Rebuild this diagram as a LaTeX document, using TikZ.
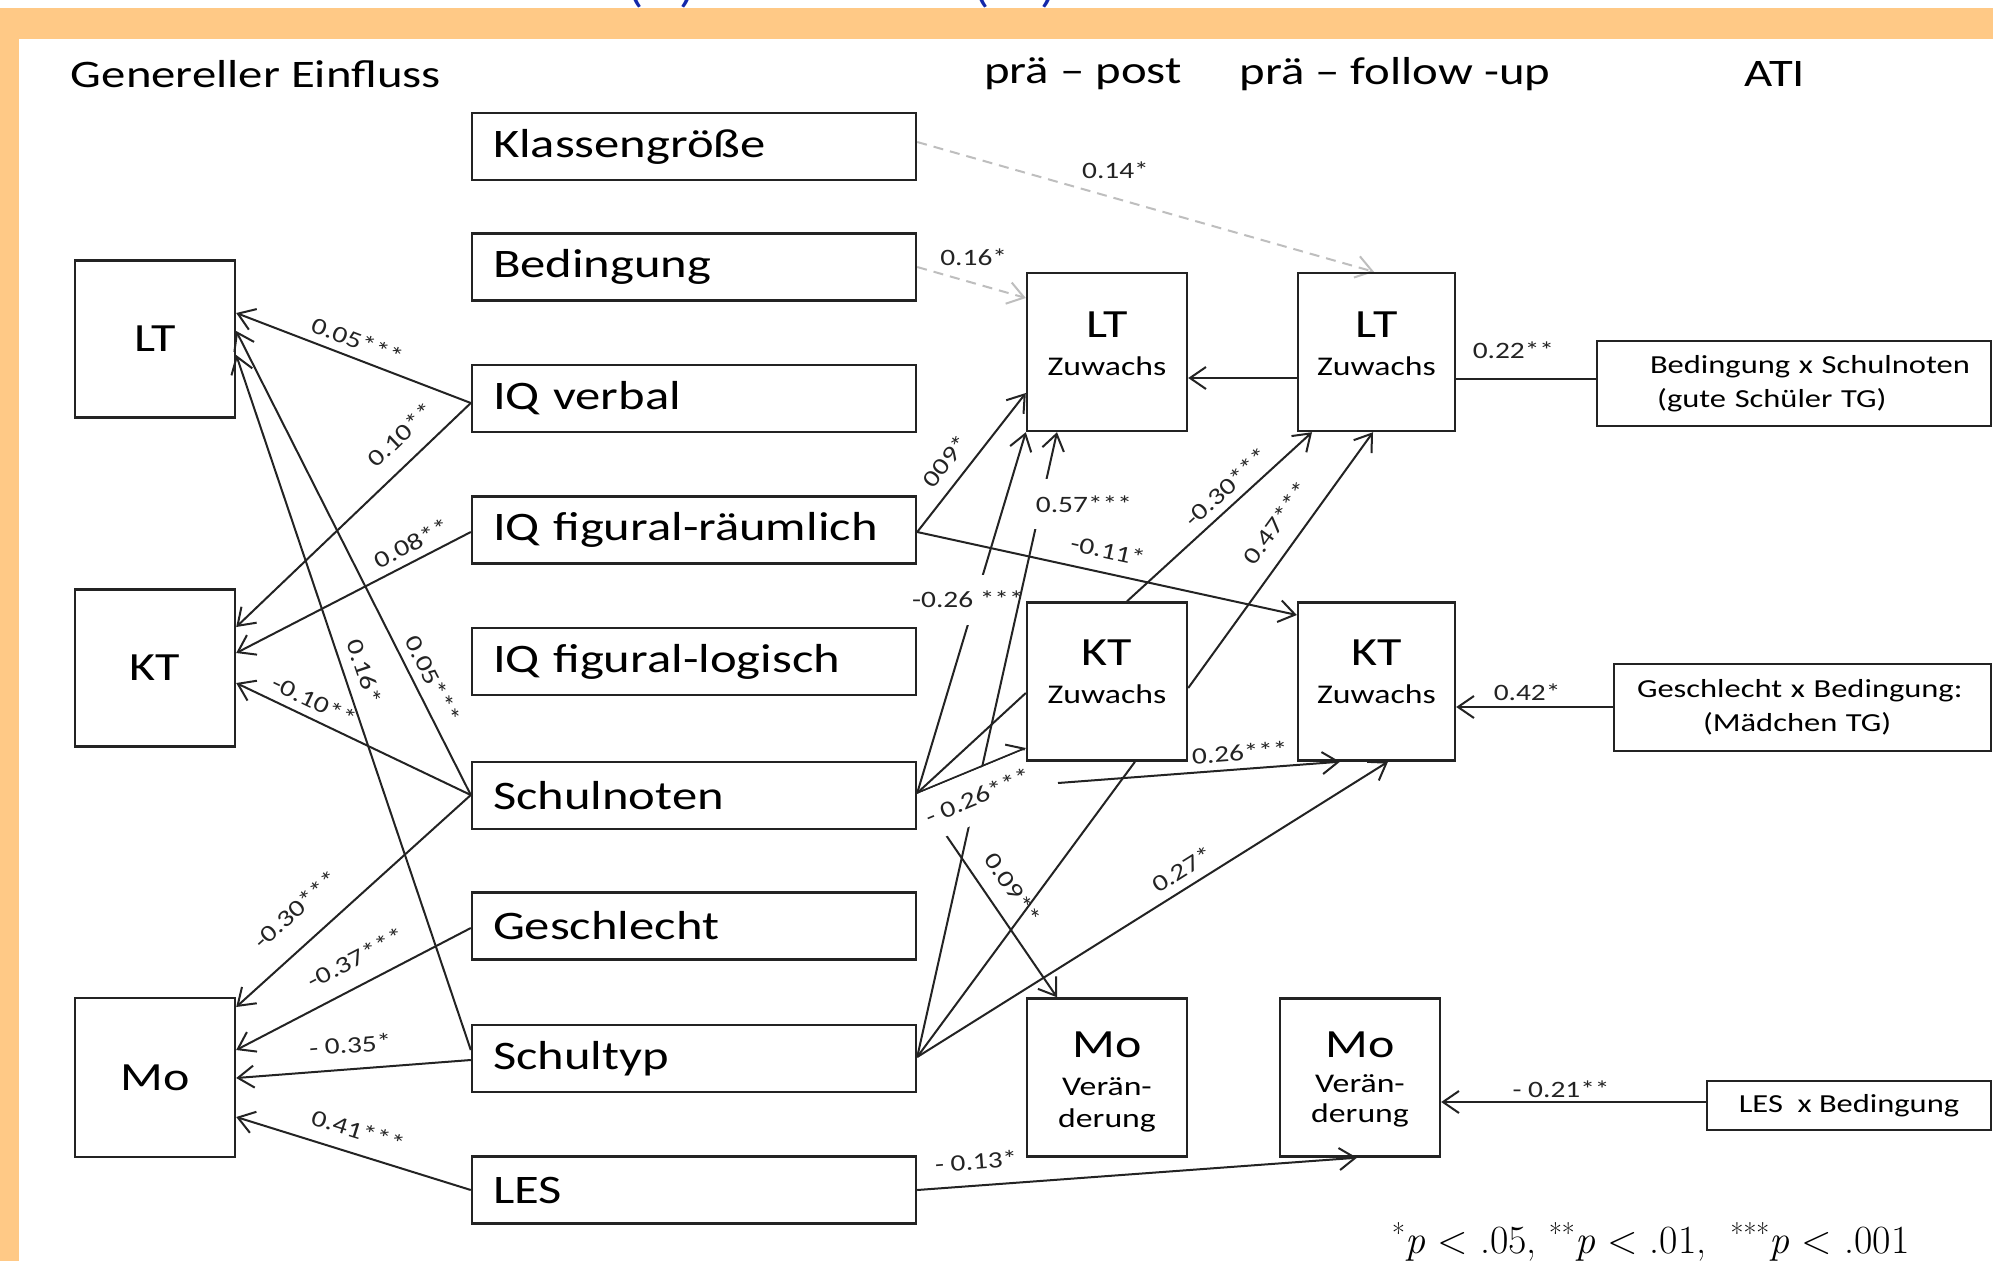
\documentclass[tikz,border=0pt]{standalone}
\usepackage{fontspec}
\newfontfamily\cf[FakeStretch=1.25]{Carlito}
\usetikzlibrary{arrows.meta,backgrounds}
\definecolor{orng}{RGB}{255,201,134}
\definecolor{lnc}{RGB}{35,35,35}
\definecolor{dgray}{RGB}{190,190,190}
\definecolor{blu}{RGB}{20,40,170}
\pgfdeclarelayer{back}
\pgfsetlayers{back,background,main}
\begin{document}
\begin{tikzpicture}[x=1pt,y=-1pt,
  box/.style={draw=lnc, line width=2.4pt, inner sep=0pt, rectangle},
  mid/.style={box, minimum width=444pt, minimum height=67pt, text width=402pt, align=left, font=\cf\fontsize{40.5}{46}\selectfont},
  big/.style={box, minimum width=160pt, minimum height=157pt, font=\cf\fontsize{40}{46}\selectfont},
  sqr/.style={box, minimum width=160pt, minimum height=158pt},
  ttl/.style={font=\cf\fontsize{40}{46}\selectfont, inner sep=0pt, anchor=base},
  sub/.style={font=\cf\fontsize{27}{30}\selectfont, inner sep=0pt, anchor=base},
  ati/.style={box, align=left, font=\cf\fontsize{26}{34}\selectfont},
  hdr/.style={font=\cf\fontsize{39}{46}\selectfont, inner sep=0pt},
  lab/.style={font=\cf\fontsize{23.5}{26}\selectfont, inner sep=1pt, text=lnc},
  wlab/.style={lab, fill=white, minimum height=50pt, inner xsep=4pt},
  ln/.style={draw=lnc, line width=2pt},
  dsh/.style={draw=dgray, line width=2pt, dash pattern=on 10pt off 7pt},
  tipE/.style={-{Straight Barb[length=16pt,width=22pt,line width=2pt]}},
  tipS/.style={{Straight Barb[length=16pt,width=22pt,line width=2pt]}-}]
\useasboundingbox (0,0) rectangle (1993,1261);
\begin{pgfonlayer}{back}
\fill[white] (0,0) rectangle (1993,1261);
\fill[orng] (0,8) rectangle (1993,39);
\fill[orng] (0,39) rectangle (19,1261);
\end{pgfonlayer}

% cut-off blue title remnants
\node[anchor=south, inner sep=0pt, text=blu, font=\cf\fontsize{40}{40}\selectfont] (bl1) at (662,8) {(\hspace{36pt})};
\node[anchor=south, inner sep=0pt, text=blu, font=\cf\fontsize{40}{40}\selectfont] (bl2) at (1015,8) {(\hspace{50pt})};

% headers
\node[hdr] (h1) at (256,74) {Genereller Einfluss};
\node[hdr] (h2) at (1083,74) {prä – post};
\node[hdr] (h3) at (1395,74) {prä – follow -up};
\node[hdr] (h4) at (1775,74) {ATI};

% left boxes
\node[big] (lt) at (155,339) {LT};
\node[big] (kt) at (155,668) {KT};
\node[big, minimum height=159pt] (mo) at (155,1077.5) {Mo};

% middle column
\node[mid] (kg) at (694,146.5) {Klassengröße};
\node[mid] (bed) at (694,267) {Bedingung};
\node[mid] (iqv) at (694,398.5) {IQ verbal};
\node[mid] (iqr) at (694,530) {IQ figural-räumlich};
\node[mid] (iql) at (694,661.5) {IQ figural-logisch};
\node[mid] (sn) at (694,795.5) {Schulnoten};
\node[mid] (ge) at (694,926) {Geschlecht};
\node[mid] (st) at (694,1058.5) {Schultyp};
\node[mid] (les) at (694,1190) {LES};

% outcome boxes
\node[sqr] (ltp) at (1107,352) {};
\node[sqr, minimum width=157pt] (ltf) at (1376.5,352) {};
\node[sqr] (ktp) at (1107,681.5) {};
\node[sqr, minimum width=157pt] (ktf) at (1376.5,681.5) {};
\node[sqr] (mop) at (1107,1077.5) {};
\node[sqr] (mof) at (1360,1077.5) {};

\node[ttl] (ltpA) at ([yshift=15pt]ltp.center) {LT};
\node[sub] (ltpB) at ([yshift=-23pt]ltp.center) {Zuwachs};
\node[ttl] (ltfA) at ([yshift=15pt]ltf.center) {LT};
\node[sub] (ltfB) at ([yshift=-23pt]ltf.center) {Zuwachs};
\node[ttl] (ktpA) at ([yshift=16.5pt]ktp.center) {KT};
\node[sub] (ktpB) at ([yshift=-21.5pt]ktp.center) {Zuwachs};
\node[ttl] (ktfA) at ([yshift=16.5pt]ktf.center) {KT};
\node[sub] (ktfB) at ([yshift=-21.5pt]ktf.center) {Zuwachs};
\node[ttl] (mopA) at ([yshift=20.5pt]mop.center) {Mo};
\node[sub] (mopB) at ([yshift=-17.5pt]mop.center) {Verän-};
\node[sub] (mopC) at ([yshift=-49.5pt]mop.center) {derung};
\node[ttl] (mofA) at ([yshift=20.5pt]mof.center) {Mo};
\node[sub] (mofB) at ([yshift=-14.5pt]mof.center) {Verän-};
\node[sub] (mofC) at ([yshift=-44.5pt]mof.center) {derung};

% ATI boxes
\node[ati, minimum width=394pt, minimum height=85pt, text width=372pt] (a1) at (1794,383.5)
  {\hspace*{42pt}Bedingung x Schulnoten\\\hspace*{49pt}(gute Schüler TG)};
\node[ati, minimum width=377pt, minimum height=87pt, text width=351pt] (a2) at (1802.5,707.5)
  {\hspace*{10pt}Geschlecht x Bedingung:\\\hspace*{76pt}(Mädchen TG)};
\node[ati, minimum width=284pt, minimum height=49pt, align=center] (a3) at (1849,1105.5) {LES\ \ x Bedingung};

% footnote
\node[anchor=base west, inner sep=0pt, font=\fontsize{40}{44}\selectfont] (fn) at (1392,1253)
  {\textsuperscript{*}\textit{p} < .05, \textsuperscript{**}\textit{p} < .01,\ \ \textsuperscript{***}\textit{p} < .001};

\coordinate (snE) at ([yshift=2.5pt]sn.east);
\coordinate (stE) at ([yshift=1.5pt]st.east);
\coordinate (c26) at (1058,783);

\begin{scope}[on background layer]
% left side
\draw[ln,tipS] ([yshift=26pt]lt.east) -- node[lab,sloped,above=7pt,pos=0.49]{0.05***} ([yshift=-4.5pt]iqv.west);
\draw[ln,tipS] ([yshift=41pt]kt.east) -- node[lab,sloped,above=15pt,pos=0.776]{0.10**} ([yshift=-4.5pt]iqv.west);
\draw[ln,tipS] ([yshift=15pt]kt.east) -- node[lab,sloped,above=7pt,pos=0.78]{0.08**} ([yshift=-2pt]iqr.west);
\draw[ln,tipS] ([yshift=-15pt]kt.east) -- node[lab,sloped,above=7pt,pos=0.3]{-0.10**} ([yshift=0.5pt]sn.west);
\draw[ln,tipS] ([yshift=8pt]lt.east) -- node[lab,sloped,above=8pt,pos=0.769]{0.05***} ([yshift=0.5pt]sn.west);
\draw[ln,tipS] ([yshift=-16pt]lt.east) -- node[lab,sloped,above=10pt,pos=0.465]{0.16*} ([yshift=8.5pt]st.west);
\draw[ln,tipS] ([yshift=70.5pt]mo.east) -- node[lab,sloped,above=22pt,pos=0.346]{-0.30***} ([yshift=0.5pt]sn.west);
\draw[ln,tipS] ([yshift=27.5pt]mo.east) -- node[lab,sloped,above=16pt,pos=0.561]{-0.37***} ([yshift=-2pt]ge.west);
\draw[ln,tipS] ([yshift=-0.5pt]mo.east) -- node[lab,sloped,above=14pt,pos=0.494]{- 0.35*} ([yshift=-1.5pt]st.west);
\draw[ln,tipS] ([yshift=-39.5pt]mo.east) -- node[lab,sloped,above=13pt,pos=0.49]{0.41***} (les.west);
% right side
\draw[dsh,tipE] ([yshift=4.5pt]kg.east) -- node[lab,pos=0.434,yshift=28.5pt]{0.14*} ([xshift=-2.5pt]ltf.north);
\draw[dsh,tipE] (bed.east) -- node[lab,pos=0.52,yshift=26pt]{0.16*} ([yshift=54pt]ltp.west);
\draw[ln,tipS] ([yshift=-26pt]ltp.east) -- ([yshift=-26pt]ltf.west);
\draw[ln,tipE] ([yshift=-2pt]iqr.east) -- node[lab,sloped,above=11pt,pos=0.416]{009*} ([yshift=-41pt]ltp.west);
\draw[ln,tipE] ([yshift=-2pt]iqr.east) -- node[lab,sloped,above=12pt,pos=0.49]{-0.11*} ([yshift=66.5pt]ktf.west);
\draw[ln] (snE) -- ([yshift=-11.5pt]ktp.west);
\draw[ln,tipE] (snE) -- node[lab,sloped,above=15pt,pos=0.535]{0.09**} ([xshift=-50pt]mop.north);
\draw[ln] (stE) -- ([xshift=28pt]ktp.south);
\draw[ln,tipE] (stE) -- node[lab,sloped,above=8pt,pos=0.583]{0.27*} ([xshift=11.5pt]ktf.south);
\draw[ln,tipE] (c26) -- node[lab,sloped,above=6pt,pos=0.649]{0.26***} ([xshift=-36.5pt]ktf.south);
\draw[ln,tipE] ([yshift=-6.5pt]ktp.east) -- node[lab,sloped,above=15pt,pos=0.587]{0.47***} ([xshift=-3.5pt]ltf.south);
\draw[ln,tipE] ([xshift=20pt]ktp.north) -- node[lab,sloped,above=7pt,pos=0.6]{-0.30***} ([xshift=-64.5pt]ltf.south);
\draw[ln] ([yshift=-27pt]ltf.east) -- node[lab,pos=0.41,yshift=29pt]{0.22**} ([yshift=4.5pt]a1.west);
\draw[ln,tipS] ([yshift=-25.5pt]ktf.east) -- node[lab,pos=0.453,yshift=15pt]{0.42*} ([yshift=0.5pt]a2.west);
\draw[ln,tipS] ([yshift=-24.5pt]mof.east) -- node[lab,pos=0.453,yshift=13pt]{- 0.21**} ([yshift=3.5pt]a3.west);
\draw[ln,tipE] (les.east) -- node[lab,sloped,above=14pt,pos=0.138]{- 0.13*} ([xshift=-3pt]mof.south);
% edges whose labels mask crossing lines
\draw[ln,tipE] (snE) -- node[wlab,pos=0.536,xshift=-7.5pt]{-0.26 ***} (ltp.south west);
\draw[ln,tipE] (stE) -- node[wlab,pos=0.885,xshift=43pt]{0.57***} ([xshift=-50pt]ltp.south);
\draw[ln,tipE] (snE) -- node[wlab,sloped,below=0pt,pos=0.466]{- 0.26***} ([yshift=-66.5pt]ktp.west);
\end{scope}
\end{tikzpicture}
\end{document}
